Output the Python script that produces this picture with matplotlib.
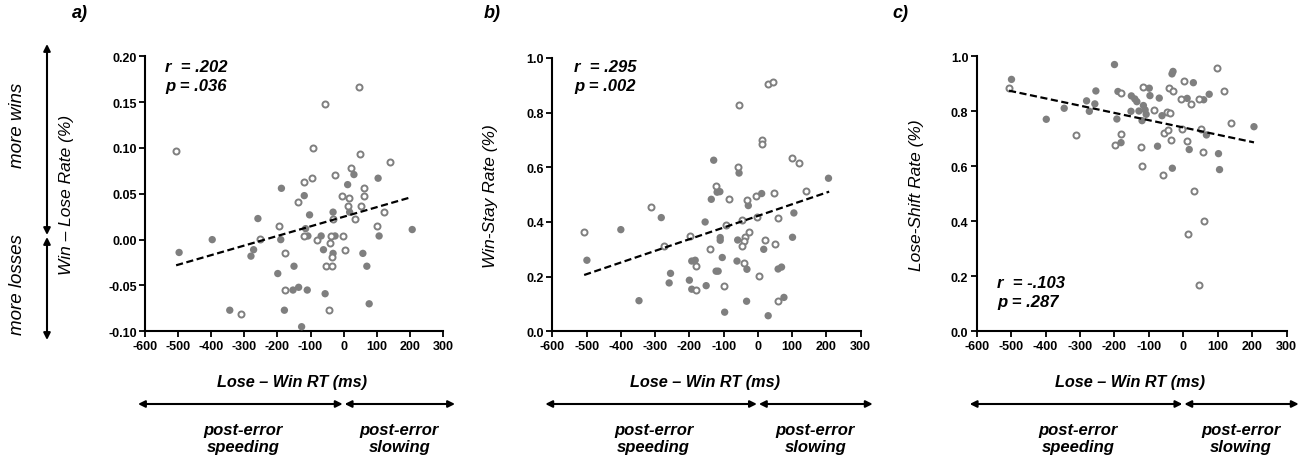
import matplotlib
matplotlib.use("Agg")
import matplotlib.pyplot as plt

plt.rcParams['font.family'] = ['Liberation Sans', 'DejaVu Sans']

W, H = 1309, 460
GRAY = '#7f7f7f'

# ---------------- data ----------------
# Panel a: Win - Lose Rate
a_open_x = [-506, -56, 47, -93, 48, 141, 23, -25, -121, -96, 62, 60, -5, 16, -137, 13, 51, 121,
            33, -196, 100, -32, -119, -81, -37, -1, -42, -177, -35, 4, -54, -35, -177, -45, -310, -252]
a_open_y = [0.097, 0.148, 0.166, 0.100, 0.093, 0.085, 0.078, 0.071, 0.063, 0.067, 0.056, 0.048, 0.048,
            0.045, 0.041, 0.037, 0.037, 0.030, 0.023, 0.015, 0.015, 0.023, 0.004, 0.000, 0.004, 0.004,
            -0.004, -0.015, -0.019, -0.011, -0.029, -0.029, -0.055, -0.077, -0.081, 0.001]
a_fill_x = [-497, -397, -344, -259, -272, -280, -188, -190, -199, -150, -153, -136, -110, -179, -127,
            -119, -103, -115, -108, -68, -61, -56, -32, -26, -32, 12, 31, 104, 107, 58, 70, 77, 207, 18]
a_fill_y = [-0.014, 0.000, -0.077, 0.023, -0.011, -0.018, 0.056, 0.000, -0.037, -0.029, -0.055, -0.052,
            -0.055, -0.077, -0.095, 0.048, 0.027, 0.012, 0.004, 0.004, -0.011, -0.059, 0.030, 0.004,
            -0.015, 0.060, 0.071, 0.067, 0.004, -0.015, -0.029, -0.070, 0.011, 0.030]
a_fit_x = [-506, 201]
a_fit_y = [-0.028, 0.046]

# Panel b: Win-Stay Rate
b_open_x = [-507, -312, -56, 29, 45, 13, 11, -58, 99, 119, -123, -84, -33, -7, 48, 139, -2, -47, -94,
            58, -199, -274, -140, -27, -37, -40, -47, 22, 50, -40, -182, -181, -98, 2, 60]
b_open_y = [0.362, 0.454, 0.827, 0.905, 0.911, 0.701, 0.687, 0.601, 0.634, 0.616, 0.533, 0.485, 0.482,
            0.496, 0.506, 0.513, 0.420, 0.407, 0.389, 0.416, 0.348, 0.312, 0.301, 0.365, 0.346, 0.330,
            0.311, 0.334, 0.320, 0.250, 0.240, 0.151, 0.166, 0.204, 0.110]
b_fill_x = [-499, -400, -282, -255, -259, -347, -154, -136, -129, -119, -111, -55, 11, -28, -110, -110,
            -59, -104, -193, -183, -200, -193, -151, -122, -116, -61, -32, -33, -97, 30, 17, 105, 101,
            206, 59, 69, 76]
b_fill_y = [0.260, 0.372, 0.416, 0.212, 0.177, 0.112, 0.400, 0.483, 0.626, 0.509, 0.511, 0.579, 0.504,
            0.460, 0.343, 0.333, 0.334, 0.270, 0.257, 0.260, 0.187, 0.154, 0.167, 0.220, 0.220, 0.257,
            0.227, 0.110, 0.070, 0.057, 0.300, 0.433, 0.344, 0.560, 0.228, 0.235, 0.124]
b_fit_x = [-507, 208]
b_fit_y = [0.206, 0.511]

# Panel c: Lose-Shift Rate
c_open_x = [-506, -313, -199, -181, -181, -118, -123, -120, -85, -59, -56, -45, -47, -40, -37, -42,
            -29, -8, 2, -3, 21, 10, 45, 50, 58, 98, 117, 137, 30, 60, 13, 44]
c_open_y = [0.885, 0.715, 0.678, 0.718, 0.865, 0.888, 0.672, 0.602, 0.805, 0.570, 0.721, 0.732, 0.799,
            0.793, 0.697, 0.885, 0.875, 0.844, 0.912, 0.735, 0.825, 0.693, 0.845, 0.736, 0.652, 0.956,
            0.873, 0.759, 0.509, 0.401, 0.353, 0.170]
c_fill_x = [-499, -398, -346, -281, -273, -257, -254, -200, -190, -193, -181, -152, -151, -141, -135,
            -129, -116, -111, -120, -108, -99, -97, -70, -62, -75, -33, -30, -32, 29, 11, 59, 75, 17,
            67, 102, 105, 205]
c_fill_y = [0.916, 0.771, 0.811, 0.838, 0.800, 0.827, 0.874, 0.970, 0.872, 0.772, 0.686, 0.800, 0.856,
            0.845, 0.835, 0.801, 0.821, 0.805, 0.766, 0.789, 0.884, 0.857, 0.848, 0.784, 0.673, 0.936,
            0.945, 0.593, 0.904, 0.847, 0.842, 0.862, 0.661, 0.714, 0.646, 0.588, 0.744]
c_fit_x = [-506, 205]
c_fit_y = [0.875, 0.687]

x_ticks = [-600, -500, -400, -300, -200, -100, 0, 100, 200, 300]
a_yticks = [-0.10, -0.05, 0.00, 0.05, 0.10, 0.15, 0.20]
bc_yticks = [0.0, 0.2, 0.4, 0.6, 0.8, 1.0]

panels = [
    dict(rect=(145, 57.3, 443, 332.3), ox=a_open_x, oy=a_open_y, fx=a_fill_x, fy=a_fill_y,
         lx=a_fit_x, ly=a_fit_y, yt=a_yticks, yfmt='{:.2f}', ylim=(-0.10, 0.20),
         ylabel='Win – Lose Rate (%)', ylab_x=66, letter='a)', letter_x=80,
         stats=('r  = .202', 'p = .036'), stat_xy=(165, 68)),
    dict(rect=(552.3, 59, 860.7, 332.3), ox=b_open_x, oy=b_open_y, fx=b_fill_x, fy=b_fill_y,
         lx=b_fit_x, ly=b_fit_y, yt=bc_yticks, yfmt='{:.1f}', ylim=(0.0, 1.0),
         ylabel='Win-Stay Rate (%)', ylab_x=491, letter='b)', letter_x=492,
         stats=('r  = .295', 'p = .002'), stat_xy=(574, 68)),
    dict(rect=(976.7, 57.3, 1286.7, 332.3), ox=c_open_x, oy=c_open_y, fx=c_fill_x, fy=c_fill_y,
         lx=c_fit_x, ly=c_fit_y, yt=bc_yticks, yfmt='{:.1f}', ylim=(0.0, 1.0),
         ylabel='Lose-Shift Rate (%)', ylab_x=917, letter='c)', letter_x=900,
         stats=('r  = -.103', 'p = .287'), stat_xy=(997, 284)),
]

fig = plt.figure(figsize=(W / 100, H / 100), dpi=100)


def fx_(px):
    return px / W


def fy_(py):
    return 1 - py / H


for p in panels:
    x0, y0, x1, y1 = p['rect']
    ax = fig.add_axes([fx_(x0), fy_(y1), (x1 - x0) / W, (y1 - y0) / H])
    ax.scatter(p['fx'], p['fy'], s=28, color=GRAY, edgecolors='none', zorder=3)
    ax.scatter(p['ox'], p['oy'], s=19, facecolors='white', edgecolors=GRAY, linewidths=1.4, zorder=3)
    ax.plot(p['lx'], p['ly'], color='black', lw=1.6, ls=(0, (3.2, 1.6)), zorder=4)
    ax.set_xlim(-600, 300)
    ax.set_ylim(*p['ylim'])
    ax.set_xticks(x_ticks)
    ax.set_xticklabels([str(t) for t in x_ticks])
    ax.set_yticks(p['yt'])
    ax.set_yticklabels([p['yfmt'].format(t) for t in p['yt']])
    for s in ['top', 'right']:
        ax.spines[s].set_visible(False)
    for s in ['left', 'bottom']:
        ax.spines[s].set_linewidth(1.5)
    ax.tick_params(direction='out', length=4, width=1.3, labelsize=9, pad=2)
    for lab in ax.get_xticklabels() + ax.get_yticklabels():
        lab.set_fontweight('bold')
    ax.patch.set_alpha(0)

    xc = (x0 + x1) / 2
    # x label
    fig.text(fx_(xc - 2), fy_(383), 'Lose – Win RT (ms)', ha='center', va='center',
             fontsize=11.7, fontweight='bold', fontstyle='italic')
    # y label
    fig.text(fx_(p['ylab_x']), fy_((y0 + y1) / 2), p['ylabel'], ha='center', va='center',
             rotation=90, fontsize=12.5, fontstyle='italic')
    # panel letter
    fig.text(fx_(p['letter_x']), fy_(13), p['letter'], ha='center', va='center',
             fontsize=13, fontweight='bold', fontstyle='italic')
    # stats
    sx, sy = p['stat_xy']
    fig.text(fx_(sx), fy_(sy), p['stats'][0], ha='left', va='center',
             fontsize=12, fontweight='bold', fontstyle='italic')
    fig.text(fx_(sx), fy_(sy + 19), p['stats'][1], ha='left', va='center',
             fontsize=12, fontweight='bold', fontstyle='italic')

    # horizontal arrows below
    sc = (x1 - x0) / 900.0
    zero_px = x0 + 600 * sc
    left_px = x0 - 7
    right_px = x1 + 12
    ay = fy_(405)
    arrow = dict(arrowstyle='<|-|>', color='black', lw=1.5, mutation_scale=10, shrinkA=0, shrinkB=0)
    fig.add_artist(matplotlib.patches.FancyArrowPatch((fx_(left_px), ay), (fx_(zero_px - 1), ay),
                                                      transform=fig.transFigure, **arrow))
    fig.add_artist(matplotlib.patches.FancyArrowPatch((fx_(zero_px + 1), ay), (fx_(right_px), ay),
                                                      transform=fig.transFigure, **arrow))
    fig.text(fx_((left_px + zero_px) / 2 + 2), fy_(439), 'post-error\nspeeding', ha='center',
             va='center', fontsize=12, fontweight='bold', fontstyle='italic', linespacing=1.15)
    fig.text(fx_((zero_px + right_px) / 2), fy_(439), 'post-error\nslowing', ha='center',
             va='center', fontsize=12, fontweight='bold', fontstyle='italic', linespacing=1.15)

# vertical arrows on the far left
arrow = dict(arrowstyle='<|-|>', color='black', lw=1.5, mutation_scale=10, shrinkA=0, shrinkB=0)
fig.add_artist(matplotlib.patches.FancyArrowPatch((fx_(47), fy_(45)), (fx_(47), fy_(236)),
                                                  transform=fig.transFigure, **arrow))
fig.add_artist(matplotlib.patches.FancyArrowPatch((fx_(47), fy_(238)), (fx_(47), fy_(341)),
                                                  transform=fig.transFigure, **arrow))
fig.text(fx_(18), fy_(125), 'more wins', rotation=90, ha='center', va='center',
         fontsize=13.5, fontstyle='italic')
fig.text(fx_(18), fy_(285), 'more losses', rotation=90, ha='center', va='center',
         fontsize=13.5, fontstyle='italic')

fig.savefig('out.png', dpi=100)
